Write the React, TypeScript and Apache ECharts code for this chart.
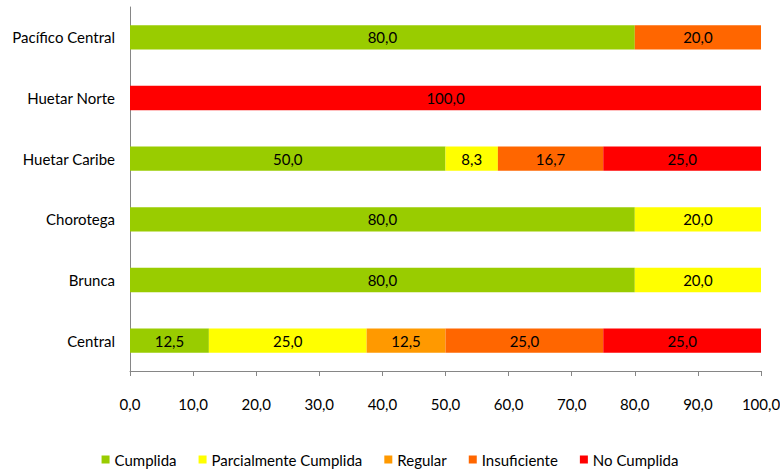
import React, { useEffect, useRef } from "react";
import * as echarts from "echarts";

const categories = ["Central", "Brunca", "Chorotega", "Huetar Caribe", "Huetar Norte", "Pacífico Central"];
const seriesNames = ["Cumplida", "Parcialmente Cumplida", "Regular", "Insuficiente", "No Cumplida"];
const cumplida = [12.5, 80, 80, 50, 0, 80];
const parcial = [25, 20, 20, 8.3, 0, 0];
const regular = [12.5, 0, 0, 0, 0, 0];
const insuficiente = [25, 0, 0, 16.7, 0, 20];
const noCumplida = [25, 0, 0, 25, 100, 0];
const colors = ["#99CC00", "#FFFF00", "#FF9900", "#FF6600", "#FF0000"];

const fmt = (v: number) => v.toFixed(1).replace(".", ",");

export default function App() {
  const ref = useRef<HTMLDivElement>(null);
  useEffect(() => {
    const chart = echarts.init(ref.current!, null, { renderer: "svg" });
    const font = "Lato, 'Noto Sans', sans-serif";
    const fs = 15;
    const allData = [cumplida, parcial, regular, insuficiente, noCumplida];
    chart.setOption({
      animation: false,
      textStyle: { fontFamily: font },
      grid: { left: 130, right: 19, top: 7, bottom: 98, containLabel: false, outerBoundsMode: "none" },
      legend: {
        top: 447,
        left: "center",
        itemWidth: 8,
        itemHeight: 8,
        itemGap: 22,
        icon: "rect",
        textStyle: { fontFamily: font, fontSize: fs, color: "#000" },
        data: seriesNames,
      },
      xAxis: {
        type: "value",
        min: 0,
        max: 100,
        interval: 10,
        axisLine: { show: true, lineStyle: { color: "#868686" } },
        axisTick: { show: true, length: 5, lineStyle: { color: "#868686" } },
        splitLine: { show: false },
        axisLabel: { color: "#000", fontSize: fs, fontFamily: font, margin: 25, formatter: (v: number) => fmt(v) },
      },
      yAxis: {
        type: "category",
        data: categories,
        axisLine: { show: true, lineStyle: { color: "#868686" } },
        axisTick: { show: false },
        axisLabel: { color: "#000", fontSize: fs, fontFamily: font, margin: 15 },
      },
      series: seriesNames.map((name, i) => ({
        name,
        type: "bar",
        stack: "total",
        barWidth: "40%",
        itemStyle: { color: colors[i] },
        label: {
          show: true,
          position: "inside",
          color: "#000",
          fontSize: fs,
          fontFamily: font,
          formatter: (p: any) => (p.value > 0 ? fmt(p.value) : ""),
        },
        data: allData[i],
      })),
    });
    return () => chart.dispose();
  }, []);
  return <div ref={ref} style={{ width: 780, height: 469, position: "absolute", left: 0, top: 0 }} />;
}
